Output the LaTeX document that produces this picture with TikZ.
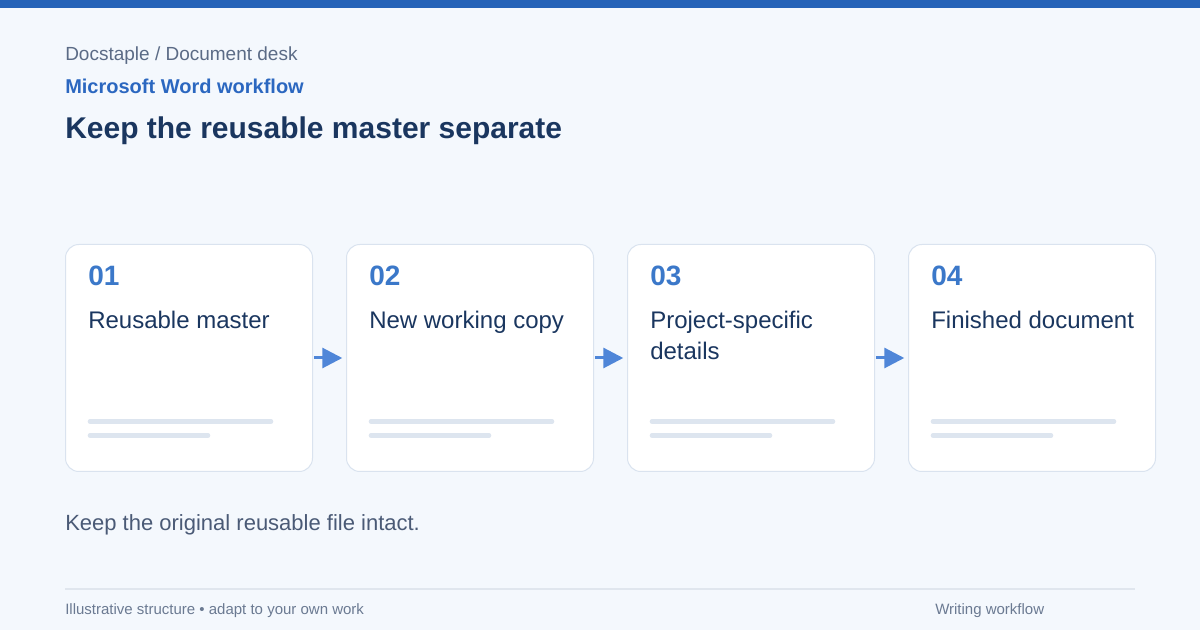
\documentclass[tikz,border=0pt]{standalone}
\usepackage{fontspec}
\setmainfont{Liberation Sans}
\usetikzlibrary{arrows.meta,positioning}

\definecolor{pagebg}{HTML}{F4F8FD}
\definecolor{topbar}{HTML}{2563B8}
\definecolor{crumbgray}{HTML}{5B6B86}
\definecolor{kickerblue}{HTML}{2B67C0}
\definecolor{navy}{HTML}{1A365F}
\definecolor{numblue}{HTML}{3B78C9}
\definecolor{cardline}{HTML}{DAE3EF}
\definecolor{barfill}{HTML}{DDE5EF}
\definecolor{flowblue}{HTML}{4F86D8}
\definecolor{notegray}{HTML}{4A5A76}
\definecolor{footgray}{HTML}{6B7A92}
\definecolor{rulegray}{HTML}{E0E6EE}

\tikzset{
  txt/.style={anchor=base west, inner sep=0pt},
  card/.style={draw=cardline, fill=white, line width=0.75pt, rounded corners=10pt,
    minimum width=185.25pt, minimum height=170.25pt, anchor=north west, inner sep=0pt},
  stepnum/.style={txt, text=numblue, font=\fontsize{21}{25}\selectfont\bfseries},
  steplabel/.style={txt, text=navy, align=left, font=\fontsize{18}{23.25}\selectfont},
  bar/.style={draw=barfill, line width=3.4pt, line cap=round},
  flow/.style={->, draw=flowblue, fill=flowblue, line width=2.25pt, shorten <=1pt, shorten >=2.8pt},
}

\begin{document}
\begin{tikzpicture}[x=0.75pt, y=-0.75pt, >={Triangle[length=15pt,width=15pt]}]
  \useasboundingbox (0,0) rectangle (1200,630);
  \fill[pagebg] (0,0) rectangle (1200,630);
  \fill[topbar] (0,0) rectangle (1200,8);

  % heading
  \node[txt, text=crumbgray, font=\fontsize{14.25}{17}\selectfont] (crumb) at (65,61) {Docstaple / Document desk};
  \node[txt, text=kickerblue, font=\fontsize{15}{18}\selectfont\bfseries] (kicker) at (65,94) {Microsoft Word workflow};
  \node[txt, text=navy, font=\fontsize{22.5}{27}\selectfont\bfseries] (title) at (65,139) {Keep the reusable master separate};

  % cards
  \node[card] (c1) at (65,244) {};
  \node[card] (c2) at (346,244) {};
  \node[card] (c3) at (627,244) {};
  \node[card] (c4) at (908,244) {};

  \node[stepnum] (n1) at (88,285.5) {01};
  \node[stepnum] (n2) at (369,285.5) {02};
  \node[stepnum] (n3) at (650,285.5) {03};
  \node[stepnum] (n4) at (931,285.5) {04};

  \node[steplabel] (l1) at (88,329) {Reusable master};
  \node[steplabel] (l2) at (369,329) {New working copy};
  \node[steplabel] (l3) at (650,360) {Project-specific\\details}; % base = last line
  \node[steplabel] (l4) at (931,329) {Finished document};

  % placeholder lines
  \draw[bar] (90,421.5) -- (271,421.5);
  \draw[bar] (90,435.5) -- (208,435.5);
  \draw[bar] (371,421.5) -- (552,421.5);
  \draw[bar] (371,435.5) -- (489,435.5);
  \draw[bar] (652,421.5) -- (833,421.5);
  \draw[bar] (652,435.5) -- (770,435.5);
  \draw[bar] (933,421.5) -- (1114,421.5);
  \draw[bar] (933,435.5) -- (1051,435.5);

  % flow
  \draw[flow] (c1) -- (c2);
  \draw[flow] (c2) -- (c3);
  \draw[flow] (c3) -- (c4);

  \node[txt, text=notegray, font=\fontsize{16.5}{20}\selectfont] (note) at (65,531) {Keep the original reusable file intact.};

  % footer
  \coordinate (ruleL) at (65,589);
  \coordinate (ruleR) at (1135,589);
  \draw[rulegray, line width=1.1pt] (ruleL) -- (ruleR);
  \node[txt, text=footgray, font=\fontsize{11.25}{14}\selectfont] (foot) at (65,614.5) {Illustrative structure • adapt to your own work};
  \node[txt, text=footgray, font=\fontsize{11.25}{14}\selectfont] (tag) at (935,614.5) {Writing workflow};
\end{tikzpicture}
\end{document}
